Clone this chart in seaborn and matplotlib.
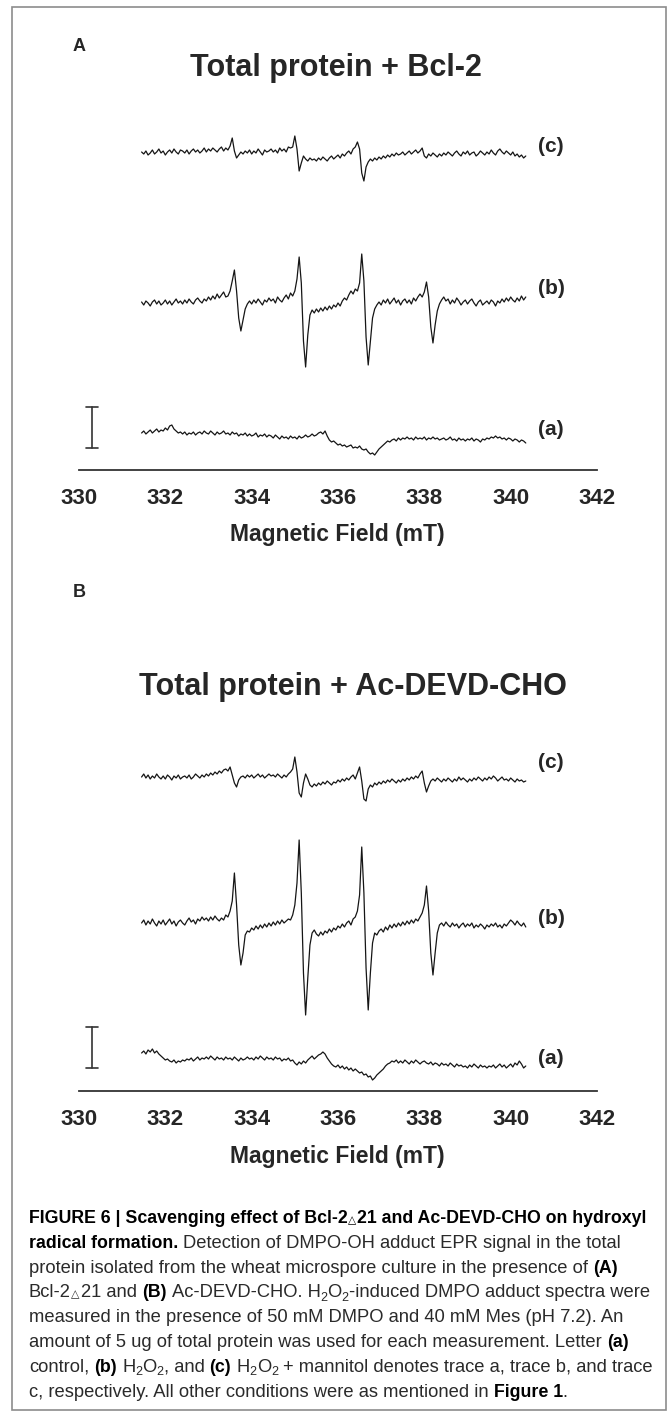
import numpy as np
import pandas as pd
import matplotlib
matplotlib.use("Agg")
import matplotlib.pyplot as plt
import matplotlib.transforms as mtransforms
from matplotlib import font_manager as fm
from matplotlib.patches import Rectangle
import seaborn as sns

# ----------------------------
# Data: EPR traces (0.05 mT steps, arbitrary units ~ px)
# ----------------------------
field_start = 331.45
field_step = 0.05
tick_values = [330, 332, 334, 336, 338, 340, 342]
tick_labels = ["330", "332", "334", "336", "338", "340", "342"]
trace_names = ["(c)", "(b)", "(a)"]

a_c = [1, -1, 2, -2, 0, 3, -1, 1, 4, 0,
       2, -2, 1, 3, 0, 4, 1, -1, 3, 2,
       0, 3, -1, 2, 4, 1, 3, 0, 2, 5,
       1, 4, 2, 5, 3, 1, 4, 6, 2, 5,
       3, 7, 15, 2, -5, -2, 1, -1, 2, 0,
       3, -1, 2, 0, 4, 1, -2, 3, 1, 2,
       4, 1, 3, 0, 5, 2, 4, 1, 6, 5,
       6, 17, 4, -18, -10, -3, -6, -8, -5, -7,
       -6, -8, -5, -7, -4, -6, -8, -5, -3, -6,
       -4, -2, -5, -1, -3, 0, 2, -1, 4, 6,
       11, 4, -20, -28, -14, -9, -6, -8, -5, -7,
       -4, -6, -3, -5, -2, -4, -1, -3, 0, -2,
       -1, 1, -2, 0, 2, -1, 1, 3, 0, 2,
       5, -3, -5, -1, -3, 0, -2, -4, -1, -3,
       0, -2, 1, -1, -3, 0, 2, -1, -3, 1,
       -1, 2, -2, 0, 1, -3, -1, 2, 0, -2,
       1, -1, 3, 0, -2, 2, 4, 1, -1, 2,
       0, -2, 1, -3, -1, -4, -2, -5, -3]

a_b = [1, -2, 2, 0, -3, 1, 3, -1, 2, -2,
       0, 3, -1, 2, -2, 1, 4, 0, 2, -1,
       3, 0, 4, 1, -1, 3, 5, 2, 0, 4,
       2, 6, 3, 7, 4, 9, 5, 8, 11, 6,
       7, 12, 22, 33, 12, -15, -28, -17, -6, -1,
       2, -1, 3, 0, 4, 1, -2, 3, 1, 5,
       2, 4, 0, 6, 3, 1, 5, 8, 4, 10,
       7, 12, 24, 46, 20, -38, -64, -32, -12, -7,
       -10, -6, -9, -5, -8, -4, -7, -3, -6, -2,
       -4, 0, -3, 2, 5, 3, 8, 12, 9, 14,
       12, 20, 49, 22, -34, -62, -38, -15, -6, -2,
       1, -2, 3, 0, 4, -1, 2, 5, 0, 3,
       -2, 2, 4, 0, 3, -1, 5, 2, 6, 9,
       6, 11, 21, 6, -24, -40, -22, -8, -1, 3,
       6, 2, 4, -1, 3, 0, 5, 2, -2, 1,
       3, -1, 2, 4, 0, -3, 1, 3, -2, 0,
       2, -1, 3, 1, -3, 2, 0, 4, 1, 5,
       2, 6, 3, 1, 5, 2, 7, 3, 6]

a_a = [0, 2, -1, 1, 3, 0, 2, 4, 1, 3,
       2, 5, 3, 7, 8, 4, 2, 0, 1, -1,
       1, -2, 0, -1, 1, -2, 0, 1, -1, 2,
       0, -1, 2, 0, -2, 1, -1, 0, 2, -1,
       0, -2, 1, -1, 0, -3, -1, -2, 0, -3,
       -1, -3, -2, 0, -4, -2, -3, -1, -4, -2,
       -3, -5, -2, -4, -6, -3, -5, -4, -6, -3,
       -5, -4, -6, -3, -5, -4, -2, -4, -3, -1,
       -3, -2, 0, 1, -1, 2, -3, -7, -9, -8,
       -10, -12, -11, -13, -12, -14, -13, -12, -15, -14,
       -15, -13, -16, -17, -16, -19, -21, -20, -22, -19,
       -16, -14, -12, -10, -8, -9, -7, -6, -8, -5,
       -7, -5, -6, -4, -6, -5, -7, -4, -6, -5,
       -6, -4, -7, -5, -6, -4, -6, -5, -7, -6,
       -5, -7, -6, -4, -7, -6, -8, -5, -7, -6,
       -8, -6, -7, -5, -8, -6, -7, -9, -6, -7,
       -5, -6, -4, -5, -3, -5, -4, -6, -5, -7,
       -5, -6, -8, -6, -7, -9, -7, -8, -10]

b_c = [0, 3, -1, 2, -2, 1, -1, 3, 0, -2,
       1, -2, 2, 0, -3, 1, -1, 2, -2, 0,
       1, -1, 2, -2, 0, 3, 1, -1, 2, 0,
       3, 1, 4, 2, 5, 3, 6, 4, 7, 8,
       6, 10, 2, -6, -10, -3, 0, 1, -1, 2,
       0, 2, -1, 1, 3, 0, 2, -1, 1, 3,
       1, 2, 0, 3, 1, -1, 2, 0, 3, 5,
       8, 20, 5, -16, -20, -6, 3, -2, -8, -10,
       -7, -9, -6, -8, -5, -7, -4, -6, -8, -5,
       -6, -3, -5, -2, -4, -1, -3, 0, 2, -2,
       4, 10, -4, -22, -24, -12, -8, -10, -6, -8,
       -5, -7, -4, -6, -3, -5, -2, -4, -6, -3,
       -5, -2, -4, -1, -3, 0, -2, 1, -1, 3,
       6, -6, -15, -9, -4, -2, -4, -1, -3, -5,
       -2, -4, -1, -3, -5, -2, -4, 0, -3, -1,
       -3, -5, -2, -4, -1, -3, 0, -2, -4, -1,
       -3, 0, -2, 1, -1, -4, -2, 0, -3, -2,
       -4, -1, -3, -5, -2, -4, -3, -5, -4]

b_b = [0, 3, -2, 2, -1, 4, 0, -3, 2, -1,
       3, -2, 1, 4, -1, 2, -3, 1, 3, 0,
       -2, 2, 5, 1, 3, -1, 4, 2, 6, 3,
       5, 2, 6, 3, 7, 4, 2, 5, 3, 8,
       6, 12, 22, 50, 18, -22, -42, -30, -12, -8,
       -9, -5, -7, -3, -6, -2, -5, -1, -4, 0,
       -3, 1, -2, 2, -1, 3, 0, 2, 4, 3,
       8, 18, 40, 83, 30, -50, -92, -55, -22, -10,
       -7, -11, -13, -9, -12, -8, -10, -6, -9, -5,
       -7, -3, -5, -1, -4, 0, 2, -2, 4, 6,
       12, 28, 76, 30, -45, -87, -50, -20, -10, -12,
       -8, -6, -9, -4, -7, -2, -5, -1, -4, 0,
       -3, 1, -2, 2, -1, 3, 0, 4, 2, 6,
       10, 18, 37, 12, -30, -52, -30, -10, -2, 0,
       -3, 1, -2, -4, 0, -3, -1, -5, -2, 0,
       -4, -1, -3, 0, -5, -2, -4, -1, -3, -6,
       -2, -4, -1, -3, 0, -4, -2, -5, -1, -3,
       0, 3, 1, -2, 2, -1, -3, 0, -4]

b_a = [2, 4, 1, 5, 3, 6, 2, 4, 1, -1,
       -3, -5, -4, -6, -7, -5, -8, -6, -7, -5,
       -6, -4, -5, -3, -6, -4, -2, -5, -3, -4,
       -2, -4, -1, -3, -5, -2, -4, -3, -5, -2,
       -4, -3, -5, -2, -4, -6, -3, -5, -4, -2,
       -4, -3, -5, -2, -4, -1, -3, -5, -2, -4,
       -3, -5, -2, -4, -3, -6, -4, -5, -3, -6,
       -5, -8, -10, -7, -9, -6, -8, -5, -3, -1,
       -4, -2, 0, 1, 3, 1, -3, -6, -9, -11,
       -12, -10, -13, -11, -14, -12, -15, -13, -16, -14,
       -16, -18, -17, -20, -19, -22, -21, -25, -23, -20,
       -18, -16, -14, -11, -9, -8, -6, -7, -5, -8,
       -6, -8, -5, -7, -9, -6, -8, -5, -7, -9,
       -7, -6, -8, -9, -7, -10, -8, -9, -11, -8,
       -10, -9, -11, -8, -10, -12, -9, -11, -10, -12,
       -11, -13, -10, -12, -9, -11, -13, -10, -12, -11,
       -13, -11, -12, -10, -13, -11, -9, -12, -10, -13,
       -11, -9, -12, -8, -10, -6, -9, -13, -11]

titles = ["Total protein + Bcl-2", "Total protein + Ac-DEVD-CHO"]
panel_letters = ["A", "B"]
xlabel_text = "Magnetic Field (mT)"

# caption runs: (text, bold, kind) kind: 0 normal, 1 subscript, 2 small symbol
TRI = "\u25b3"
caption_lines = [
    [("FIGURE 6 | Scavenging effect of Bcl-2", True, 0), (TRI, True, 2),
     ("21 and Ac-DEVD-CHO on hydroxyl", True, 0)],
    [("radical formation.", True, 0), (" Detection of DMPO-OH adduct EPR signal in the total", False, 0)],
    [("protein isolated from the wheat microspore culture in the presence of ", False, 0), ("(A)", True, 0)],
    [("Bcl-2", False, 0), (TRI, False, 2), ("21 and ", False, 0), ("(B)", True, 0), (" Ac-DEVD-CHO. H", False, 0),
     ("2", False, 1), ("O", False, 0), ("2", False, 1), ("-induced DMPO adduct spectra were", False, 0)],
    [("measured in the presence of 50 mM DMPO and 40 mM Mes (pH 7.2). An", False, 0)],
    [("amount of 5 ug of total protein was used for each measurement. Letter ", False, 0), ("(a)", True, 0)],
    [("control, ", False, 0), ("(b)", True, 0), (" H", False, 0), ("2", False, 1), ("O", False, 0),
     ("2", False, 1), (", and ", False, 0), ("(c)", True, 0), (" H", False, 0), ("2", False, 1),
     ("O", False, 0), ("2", False, 1), (" + mannitol denotes trace a, trace b, and trace", False, 0)],
    [("c, respectively. All other conditions were as mentioned in ", False, 0), ("Figure 1", True, 0),
     (".", False, 0)],
]

# ----------------------------
# Long table for seaborn
# ----------------------------
panel_traces = {"A": [a_c, a_b, a_a], "B": [b_c, b_b, b_a]}
offsets = {"A": [317, 167, 37], "B": [314, 168, 36]}
rows = []
for p in panel_letters:
    for name, vals, off in zip(trace_names, panel_traces[p], offsets[p]):
        field = field_start + field_step * np.arange(len(vals))
        rows.append(pd.DataFrame({"panel": p, "trace": name, "field": field,
                                  "y": np.array(vals, dtype=float) + off}))
df = pd.concat(rows, ignore_index=True)

# ----------------------------
# Figure
# ----------------------------
sns.set_style("white")
plt.rcParams['font.family'] = ['Liberation Sans', 'DejaVu Sans']


# caption faces: a condensed regular + bold pair if one is installed, else Liberation Sans
def _wt(f):
    w = f.weight
    return w if isinstance(w, (int, float)) else fm.weight_dict.get(w, 400)


cap_reg = fm.FontProperties(family="Liberation Sans", weight="normal")
cap_bold = fm.FontProperties(family="Liberation Sans", weight="bold")
for nm in ["Liberation Sans Narrow", "Noto Sans", "Open Sans", "Roboto"]:
    cond = [f for f in fm.fontManager.ttflist if f.name == nm and f.style == "normal"
            and f.stretch in ("condensed", "semi-condensed")]
    reg = sorted([f for f in cond if 350 <= _wt(f) <= 450], key=lambda f: abs(_wt(f) - 400))
    bld = sorted([f for f in cond if 600 <= _wt(f) <= 750], key=lambda f: abs(_wt(f) - 700))
    if reg and bld:
        cap_reg = fm.FontProperties(fname=reg[0].fname)
        cap_bold = fm.FontProperties(fname=bld[0].fname)
        break

W, H = 670, 1411
fig = plt.figure(figsize=(W / 100, H / 100), dpi=100)
fig.patch.set_facecolor("white")
fig.add_artist(Rectangle((12 / W, 1 - 1410 / H), 654 / W, 1403 / H, transform=fig.transFigure,
                         fill=False, edgecolor="#8c8c8c", linewidth=1.2))

panel_geom = {"A": dict(axis=470, top=105, title_y=76, letter_y=51, title_x=336,
                        labels=[147, 288, 430], bar=(22, 63)),
              "B": dict(axis=1091, top=720, title_y=695, letter_y=597, title_x=353,
                        labels=[763, 918, 1059], bar=(23, 64))}

x_left, x_right = 79, 597
for p in panel_letters:
    g = panel_geom[p]
    hgt = g["axis"] - g["top"]
    ax = fig.add_axes([x_left / W, 1 - g["axis"] / H, (x_right - x_left) / W, hgt / H])
    sns.lineplot(data=df[df["panel"] == p], x="field", y="y", units="trace", estimator=None,
                 sort=False, color="#151515", linewidth=0.9, ax=ax, legend=False)
    ax.set_xlim(330, 342)
    ax.set_ylim(0, hgt)
    ax.set_facecolor("none")
    for s in ["left", "top", "right"]:
        ax.spines[s].set_visible(False)
    ax.spines["bottom"].set_linewidth(1.3)
    ax.spines["bottom"].set_color("#333333")
    ax.set_yticks([])
    ax.set_xticks(tick_values)
    ax.set_xticklabels(tick_labels, fontsize=16, fontweight="bold")
    ax.tick_params(axis="x", direction="out", length=7, width=1.3, color="#333333", pad=6)
    ax.set_xlabel("")
    ax.set_ylabel("")

    # scale bar
    bx, bw = 330.30, 0.14
    b0, b1 = g["bar"]
    ax.plot([bx, bx], [b0, b1], color="#333333", lw=1.2, clip_on=False)
    ax.plot([bx - bw, bx + bw], [b0, b0], color="#333333", lw=1.2, clip_on=False)
    ax.plot([bx - bw, bx + bw], [b1, b1], color="#333333", lw=1.2, clip_on=False)

    # trace labels
    for name, ly in zip(trace_names, g["labels"]):
        fig.text(538 / W, 1 - ly / H, name, fontsize=15, fontweight="bold", va="center", ha="left")

    fig.text(g["title_x"] / W, 1 - g["title_y"] / H, titles[panel_letters.index(p)],
             fontsize=22, fontweight="bold", ha="center", va="baseline")
    fig.text(73 / W, 1 - g["letter_y"] / H, p, fontsize=13, fontweight="bold", ha="left", va="baseline")
    fig.text(337 / W, 1 - (g["axis"] + 65) / H, xlabel_text, fontsize=16.5, fontweight="bold",
             ha="center", va="center")

# ----------------------------
# Caption
# ----------------------------
renderer = fig.canvas.get_renderer()
ident = mtransforms.IdentityTransform()


def make_text(x, y, s, size, bold, kind=0, **kw):
    if kind == 2:
        fp = fm.FontProperties(family="DejaVu Sans", weight="bold" if bold else "normal")
    else:
        fp = (cap_bold if bold else cap_reg).copy()
    fp.set_size(size)
    return fig.text(x, y, s, fontproperties=fp, transform=ident, **kw)


def text_width(s, size, bold, kind=0):
    t = make_text(0, 0, s, size, bold, kind)
    w = t.get_window_extent(renderer).width
    t.remove()
    return w


def draw_runs(runs, x0, base_y, size_reg, size_bold, draw=True):
    x = x0
    for s, bold, kind in runs:
        size = size_bold if bold else size_reg
        fs = size * (0.68 if kind == 1 else 0.6 if kind == 2 else 1.0)
        sw = text_width("a a", fs, bold) - text_width("aa", fs, bold)
        lead = len(s) - len(s.lstrip(" "))
        trail = len(s) - len(s.rstrip(" "))
        core = s.strip(" ")
        x += lead * sw
        if draw:
            dy = -size * 100 / 72 * 0.2 if kind == 1 else 0
            make_text(x, base_y + dy, core, fs, bold, kind, color="#000000" if bold else "#2a2a2a",
                      va="baseline", ha="left")
        x += text_width(core, fs, bold, kind) + trail * sw + (1.5 if kind == 2 else 0)
    return x - x0


# fit regular size to line 5 (29 -> 622 px) and bold size to line 1 (29 -> 645 px)
size_reg = 12 * 593 / draw_runs(caption_lines[4], 0, 0, 12, 12, draw=False)
size_bold = 12 * 616 / draw_runs(caption_lines[0], 0, 0, 12, 12, draw=False)
for k, runs in enumerate(caption_lines):
    base = 1223 + 24.8 * k
    draw_runs(runs, 29, H - base, size_reg, size_bold)

fig.savefig("out.png", dpi=100, facecolor="white")
